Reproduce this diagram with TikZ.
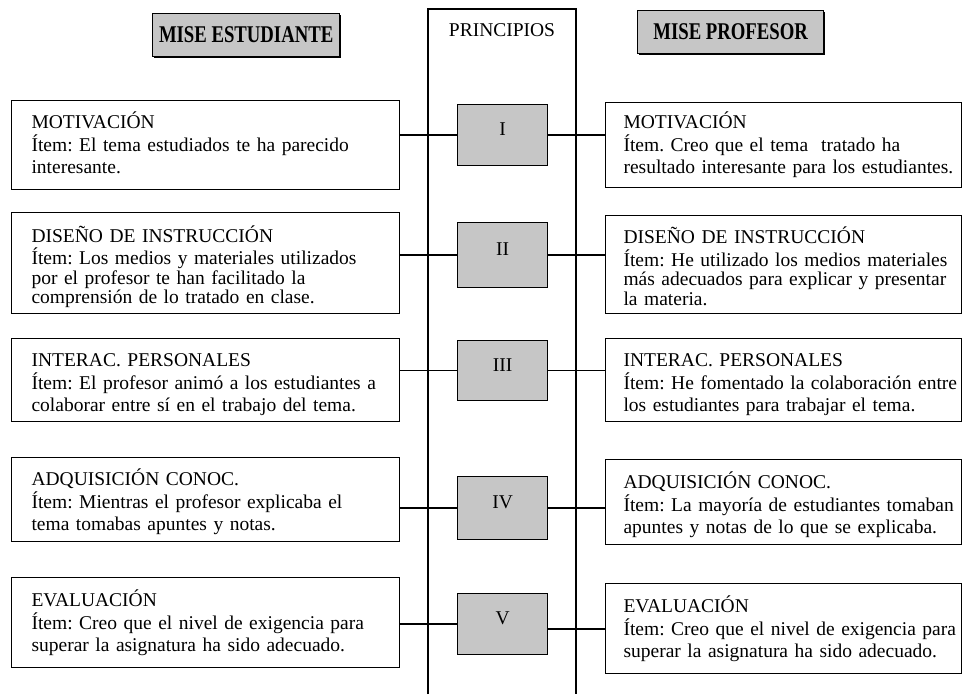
\documentclass[tikz,border=0pt]{standalone}
\usepackage{fontspec}
\setmainfont{Liberation Serif}
\newfontface\hfont[FakeStretch=0.78]{Liberation Serif Bold}
\definecolor{shade}{RGB}{198,198,198}
% #1 left padding, #2 height of the first row (pushes the text block down), #3 lines
\newcommand{\btext}[3]{\begin{tabular}{@{\hspace{#1}}l@{}}\rule{0pt}{#2}#3\end{tabular}}
\begin{document}
\begin{tikzpicture}[x=1pt,y=-1pt,
  lbox/.style={draw=black, line width=1.1pt, anchor=north west, inner xsep=0pt, inner ysep=0pt,
    text width=388pt, align=left, font=\fontsize{19.5}{22}\selectfont\frenchspacing},
  rbox/.style={draw=black, line width=1.1pt, anchor=north west, inner xsep=0pt, inner ysep=0pt,
    text width=356pt, align=left, font=\fontsize{19.5}{22}\selectfont\frenchspacing},
  pbox/.style={draw=black, fill=shade, line width=1.1pt, anchor=north west, minimum width=90pt,
    inner sep=0pt, text height=13pt, text depth=12pt, font=\fontsize{19.5}{22}\selectfont},
  hbox/.style={draw=black, fill=shade, line width=1.3pt, anchor=north west, inner sep=0pt,
    font=\hfont\fontsize{24}{26}\selectfont,
    preaction={fill=black, transform canvas={xshift=1.5pt,yshift=-1.5pt}}},
  conn/.style={draw=black, line width=1.3pt},
  frame/.style={draw=black, line width=1.2pt}
]
\useasboundingbox (0,0) rectangle (969,694);
\fill[white] (0,0) rectangle (969,694);

% headers
\node[hbox, minimum width=187pt, minimum height=43pt] (H1) at (152,13) {MISE ESTUDIANTE};
\node[hbox, minimum width=186pt, minimum height=43pt] (H2) at (637,10) {MISE PROFESOR};

% principles column
\coordinate (cbl) at (428,694);
\coordinate (ctl) at (428,9);
\coordinate (ctr) at (576,9);
\coordinate (cbr) at (576,694);
\draw[frame] (cbl) -- (ctl) -- (ctr) -- (cbr);
\node[font=\fontsize{19.5}{22}\selectfont] (PT) at (502,30) {PRINCIPIOS};

% left boxes
\node[lbox, minimum height=89pt] (L1) at (11,100) {\btext{20pt}{19pt}{MOTIVACIÓN\\Ítem: El tema estudiados te ha parecido\\interesante.}};
\node[lbox, minimum height=101pt, font=\fontsize{19.5}{19.5}\selectfont\frenchspacing] (L2) at (11,212) {\btext{20pt}{26pt}{DISEÑO DE INSTRUCCIÓN\\Ítem: Los medios y materiales utilizados\\por el profesor te han facilitado la\\comprensión de lo tratado en clase.}};
\node[lbox, minimum height=83pt] (L3) at (11,338) {\btext{20pt}{24pt}{INTERAC. PERSONALES\\Ítem: El profesor animó a los estudiantes a\\colaborar entre sí en el trabajo del tema.}};
\node[lbox, minimum height=84pt] (L4) at (11,457) {\btext{20pt}{23pt}{ADQUISICIÓN CONOC.\\Ítem: Mientras el profesor explicaba el\\tema tomabas apuntes y notas.}};
\node[lbox, minimum height=90pt] (L5) at (11,577) {\btext{20pt}{19pt}{EVALUACIÓN\\Ítem: Creo que el nivel de exigencia para\\superar la asignatura ha sido adecuado.}};

% principle boxes
\node[pbox, minimum height=61pt] (P1) at (457,104) {I};
\node[pbox, minimum height=65pt] (P2) at (457,222) {II};
\node[pbox, minimum height=60pt] (P3) at (457,340) {III};
\node[pbox, minimum height=63pt] (P4) at (457,476) {IV};
\node[pbox, minimum height=61pt] (P5) at (457,593) {V};

% right boxes
\node[rbox, minimum height=85pt] (R1) at (605,102) {\btext{18pt}{19pt}{MOTIVACIÓN\\Ítem. Creo que el tema\ \ tratado ha\\resultado interesante para los estudiantes.}};
\node[rbox, minimum height=98pt, font=\fontsize{19.5}{19.5}\selectfont\frenchspacing] (R2) at (605,215) {\btext{18pt}{26pt}{DISEÑO DE INSTRUCCIÓN\\Ítem: He utilizado los medios materiales\\más adecuados para explicar y presentar\\la materia.}};
\node[rbox, minimum height=83pt] (R3) at (605,338) {\btext{18pt}{24pt}{INTERAC. PERSONALES\\Ítem: He fomentado la colaboración entre\\los estudiantes para trabajar el tema.}};
\node[rbox, minimum height=85pt] (R4) at (605,459) {\btext{18pt}{24pt}{ADQUISICIÓN CONOC.\\Ítem: La mayoría de estudiantes tomaban\\apuntes y notas de lo que se explicaba.}};
\node[rbox, minimum height=90pt] (R5) at (605,583) {\btext{18pt}{19pt}{EVALUACIÓN\\Ítem: Creo que el nivel de exigencia para\\superar la asignatura ha sido adecuado.}};

% connectors
\foreach \i in {1,...,4}{
  \draw[conn] (P\i.west) -- (P\i.west -| L\i.east);
  \draw[conn] (P\i.east) -- (P\i.east -| R\i.west);
}
\draw[conn] (P5.west) -- (P5.west -| L5.east);
\draw[conn] ([yshift=-5pt]P5.east) -- ([yshift=-5pt]P5.east -| R5.west);
\end{tikzpicture}
\end{document}
